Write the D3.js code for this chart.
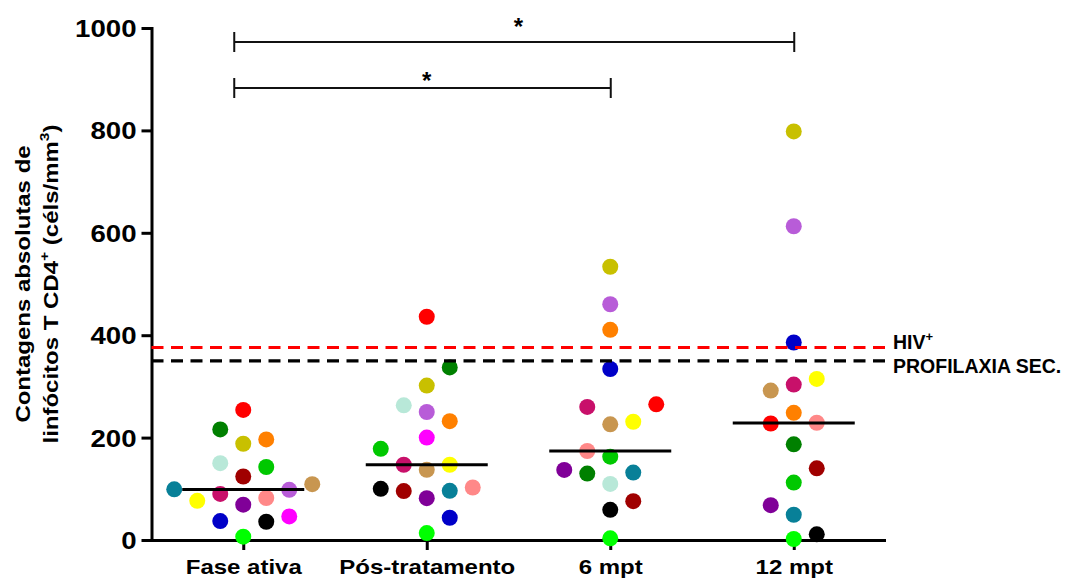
<!DOCTYPE html>
<html>
<head>
<meta charset="utf-8">
<script src="https://cdn.jsdelivr.net/npm/d3@7"></script>
<style>
  html, body { margin: 0; padding: 0; background: #ffffff; }
  svg { display: block; }
</style>
</head>
<body>
<svg id="chart" width="1065" height="578"></svg>
<script>
// ---------------- DATA ----------------
const categories = ["Fase ativa", "Pós-tratamento", "6 mpt", "12 mpt"];
const patients = ["P01","P02","P03","P04","P05","P06","P07","P08","P09",
                  "P10","P11","P12","P13","P14","P15","P16","P17","P18"];
// CD4+ T cell counts (cells/mm3) per patient; null = not measured
const faseAtiva     = [254, 216, 196.5, 188, 150, 142.6, 124, 109, 99, 98, 90, 82, 76.5, 69, 37, 35.6, 46, 6.5];
const posTratamento = [436, 337, 232, 301.6, 263, 178, 95.5, 137, 96, 250, 147, 102.5, 147, 81.7, 43.4, 100, 200, 13.6];
const mpt6          = [265, 129.7, 410.5, 533.7, 109.6, 162.8, 75.9, 226, 131.7, 460.4, 260, 173.8, 231, 136.8, 334, 59, null, 3.3];
const mpt12         = [227.6, 186.8, 248.4, 798, null, 112.2, 140, 291.8, 49.3, 612.8, 303.5, 229, 314.6, 68, 385.8, 11, null, 2];
const seriesByCategory = [faseAtiva, posTratamento, mpt6, mpt12];

const yTicks = [0, 200, 400, 600, 800, 1000];

// reference thresholds
const refLabels = ["HIV", "PROFILAXIA SEC."];
const refSups   = ["+", ""];
const refValues = [376, 350];

// significance comparisons
const compFrom = ["Fase ativa", "Fase ativa"];
const compTo   = ["12 mpt", "6 mpt"];
const compMark = ["*", "*"];

// ---------------- STYLE / LAYOUT ----------------
const patientColors = ["#ff0000","#008000","#ff8000","#c8c000","#b8e8d8","#00c800",
                       "#a00000","#c89650","#088098","#b85cd8","#c8106a","#ff8888",
                       "#ffff00","#800098","#0000c8","#000000","#ff00ff","#00ff00"];
const refColors = ["#ff0000", "#000000"];
const FONT = "'Liberation Sans', Arial, Helvetica, sans-serif";
const W = 1065, H = 578;
const M = { top: 28, right: 179.5, bottom: 38, left: 151.5 };
const DOT_R = 8;          // dot radius
const LANE = 23;          // horizontal lane width for the swarm
const COLLIDE = 22.5;     // min centre distance between dots in the swarm
const MEDIAN_HALF = 61;   // half width of the median bar
const STRETCH = 1.2;      // horizontal stretch of the bold labels
const TICK_STRETCH = 1.15;

const svg = d3.select("#chart");

const x = d3.scalePoint().domain(categories).range([M.left, W - M.right]).padding(0.5);
const y = d3.scaleLinear().domain([0, 1000]).range([H - M.bottom, M.top]);
const color = d3.scaleOrdinal(patients, patientColors);
const laneX = d3.scaleLinear().domain([0, 1]).range([0, LANE]);

// ---------------- AXES ----------------
const yAxisG = svg.append("g")
  .attr("transform", `translate(${M.left},0)`)
  .call(d3.axisLeft(y).tickValues(yTicks).tickFormat(d3.format("d"))
        .tickSize(10).tickSizeOuter(0).tickPadding(5));
yAxisG.select(".domain").attr("stroke", "#000").attr("stroke-width", 3).attr("stroke-linecap", "square");
yAxisG.selectAll(".tick line").attr("stroke", "#000").attr("stroke-width", 3);
yAxisG.selectAll(".tick text")
  .attr("font-family", FONT).attr("font-weight", "bold").attr("font-size", 24).attr("fill", "#000")
  .attr("x", -15 / TICK_STRETCH).attr("dy", "0.35em")
  .attr("transform", `scale(${TICK_STRETCH},1)`);

const xAxisG = svg.append("g")
  .attr("transform", `translate(0,${H - M.bottom})`)
  .call(d3.axisBottom(x).tickSize(10).tickSizeOuter(0));
xAxisG.select(".domain").attr("stroke", "#000").attr("stroke-width", 3);
xAxisG.selectAll(".tick line").attr("stroke", "#000").attr("stroke-width", 3);
xAxisG.selectAll(".tick text")
  .attr("font-family", FONT).attr("font-weight", "bold").attr("font-size", 20).attr("fill", "#000")
  .attr("y", 34).attr("dy", 0).attr("transform", `scale(${STRETCH},1)`);

// ---------------- SWARM LAYOUT ----------------
function swarm(points) {
  const placed = [];
  const sorted = points.slice().sort((a, b) => a.value - b.value || a.idx - b.idx);
  const dist = (lane, p, q) => Math.hypot((lane - q.lane) * LANE, p.py - q.py);
  for (const p of sorted) {
    let chosen = null;
    for (let k = 0; chosen === null && k < 30; k++) {
      const cands = k === 0 ? [0] : [k, -k];
      const free = cands.filter(c => placed.every(q => dist(c, p, q) >= COLLIDE));
      if (free.length === 1) chosen = free[0];
      else if (free.length === 2) {
        const da = placed.map(q => dist(free[0], p, q)).sort((a, b) => a - b);
        const db = placed.map(q => dist(free[1], p, q)).sort((a, b) => a - b);
        chosen = free[0];
        for (let i = 0; i < da.length; i++) {
          if (Math.abs(da[i] - db[i]) > 0.05) { chosen = da[i] > db[i] ? free[0] : free[1]; break; }
        }
      }
    }
    p.lane = chosen;
    placed.push(p);
  }
  return points;
}

const dots = [];
categories.forEach((cat, ci) => {
  const pts = [];
  seriesByCategory[ci].forEach((v, i) => {
    if (v !== null && v !== undefined) pts.push({ cat, idx: i, patient: patients[i], value: v, py: y(v) });
  });
  swarm(pts);
  dots.push(...pts);
});

svg.append("g").selectAll("circle")
  .data(dots)
  .join("circle")
  .attr("cx", d => x(d.cat) + laneX(d.lane))
  .attr("cy", d => y(d.value))
  .attr("r", DOT_R)
  .attr("fill", d => color(d.patient));

// ---------------- MEDIANS ----------------
const medians = categories.map((cat, ci) => ({ cat, med: d3.median(seriesByCategory[ci].filter(v => v !== null)) }));
svg.append("g").selectAll("line")
  .data(medians)
  .join("line")
  .attr("x1", d => x(d.cat) - MEDIAN_HALF)
  .attr("x2", d => x(d.cat) + MEDIAN_HALF)
  .attr("y1", d => y(d.med))
  .attr("y2", d => y(d.med))
  .attr("stroke", "#000")
  .attr("stroke-width", 3);

// ---------------- REFERENCE LINES ----------------
const refs = refValues.map((v, i) => ({ v, label: refLabels[i], sup: refSups[i], color: refColors[i] }));
svg.append("g").selectAll("line")
  .data(refs)
  .join("line")
  .attr("x1", M.left)
  .attr("x2", W - M.right)
  .attr("y1", d => y(d.v))
  .attr("y2", d => y(d.v))
  .attr("stroke", d => d.color)
  .attr("stroke-width", 3.2)
  .attr("stroke-dasharray", "12 7.5");

// label placement with simple collision avoidance
const MIN_GAP = 24;
const centers = refs.map(d => y(d.v));
if (Math.abs(centers[0] - centers[1]) < MIN_GAP) {
  const mid = (centers[0] + centers[1]) / 2;
  const sgn = centers[0] < centers[1] ? -1 : 1;
  centers[0] = mid + sgn * MIN_GAP / 2;
  centers[1] = mid - sgn * MIN_GAP / 2;
}
const legendText = svg.append("g")
  .attr("font-family", FONT).attr("font-weight", "bold").attr("font-size", 19.5).attr("fill", "#000");
refs.forEach((d, i) => {
  const t = legendText.append("text")
    .attr("x", W - M.right + 7.5)
    .attr("y", centers[i] + 7);
  t.append("tspan").text(d.label);
  if (d.sup) t.append("tspan").attr("font-size", 13).attr("dy", -8).text(d.sup);
});

// ---------------- SIGNIFICANCE BRACKETS ----------------
const BRACKET_TOP = 42, BRACKET_STEP = 46, BRACKET_TICK = 10, LEFT_INSET = 9;
const MARK_BASE = [-7, 1];   // baseline of each mark relative to its bracket
const brackets = compFrom.map((f, i) => ({
  from: f, to: compTo[i], mark: compMark[i],
  by: BRACKET_TOP + i * BRACKET_STEP, markBase: MARK_BASE[i]
}));
const bg = svg.append("g");
bg.selectAll("path")
  .data(brackets)
  .join("path")
  .attr("d", d => {
    const x1 = x(d.from) - LEFT_INSET, x2 = x(d.to) + 0.5;
    return `M${x1},${d.by - BRACKET_TICK}V${d.by + BRACKET_TICK}M${x1},${d.by}H${x2}M${x2},${d.by - BRACKET_TICK}V${d.by + BRACKET_TICK}`;
  })
  .attr("fill", "none")
  .attr("stroke", "#111")
  .attr("stroke-width", 2);
bg.selectAll("text")
  .data(brackets)
  .join("text")
  .attr("x", d => (x(d.from) + x(d.to)) / 2)
  .attr("y", d => d.by + d.markBase)
  .attr("text-anchor", "middle")
  .attr("font-family", FONT).attr("font-weight", "bold").attr("font-size", 24)
  .text(d => d.mark);

// ---------------- Y TITLE ----------------
const yMid = (y(0) + y(1000)) / 2;
const titleG = svg.append("g")
  .attr("font-family", FONT).attr("font-weight", "bold").attr("font-size", 20)
  .attr("text-anchor", "middle").attr("fill", "#000");
titleG.append("g")
  .attr("transform", `translate(30,${yMid}) rotate(-90) scale(${STRETCH},1)`)
  .append("text").text("Contagens absolutas de");
const t2 = titleG.append("g")
  .attr("transform", `translate(58,${yMid}) rotate(-90) scale(${STRETCH},1)`)
  .append("text");
t2.append("tspan").text("linfócitos T CD4");
t2.append("tspan").attr("font-size", 13).attr("dy", -9).text("+");
t2.append("tspan").attr("dy", 9).text(" (céls/mm");
t2.append("tspan").attr("font-size", 13).attr("dy", -9).text("3");
t2.append("tspan").attr("dy", 9).text(")");
</script>
</body>
</html>
